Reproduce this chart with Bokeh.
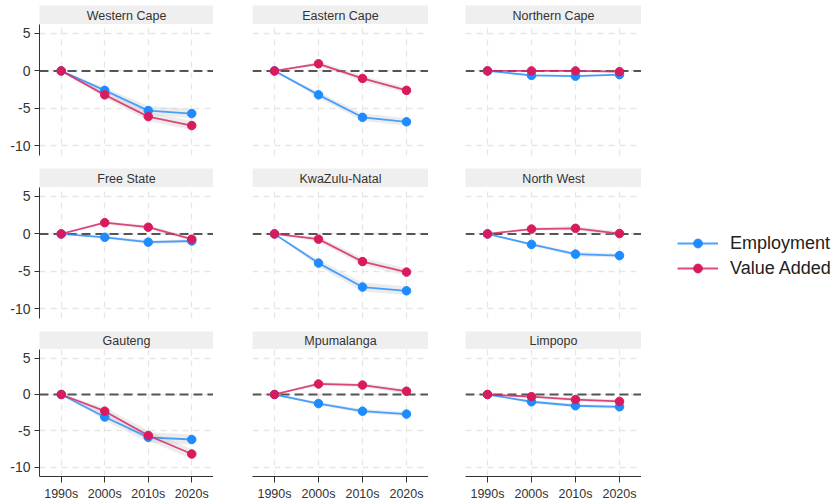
from bokeh.plotting import figure
from bokeh.layouts import row, column
from bokeh.models import (Range1d, LinearAxis, FixedTicker, Grid, Span, Label,
                          Legend, LegendItem)
from bokeh.embed import file_html
from bokeh.resources import INLINE

# ---------------- data ----------------
decades = ["1990s", "2000s", "2010s", "2020s"]
regions = ["Western Cape", "Eastern Cape", "Northern Cape",
           "Free State", "KwaZulu-Natal", "North West",
           "Gauteng", "Mpumalanga", "Limpopo"]

employment = [
    [0, -2.6, -5.3, -5.7],
    [0, -3.2, -6.2, -6.8],
    [0, -0.6, -0.7, -0.5],
    [0, -0.45, -1.1, -0.95],
    [0, -3.9, -7.1, -7.6],
    [0, -1.4, -2.7, -2.9],
    [0, -3.1, -5.9, -6.2],
    [0, -1.25, -2.3, -2.7],
    [0, -1.0, -1.55, -1.7],
]
value_added = [
    [0, -3.2, -6.1, -7.3],
    [0, 0.95, -1.0, -2.6],
    [0, 0.0, 0.0, -0.1],
    [0, 1.5, 0.9, -0.7],
    [0, -0.7, -3.7, -5.1],
    [0, 0.65, 0.75, 0.05],
    [0, -2.3, -5.65, -8.2],
    [0, 1.45, 1.3, 0.45],
    [0, -0.3, -0.7, -0.95],
]
# half-widths of the shaded confidence bands
employment_ci = [
    [0, 0.4, 0.6, 0.6],
    [0, 0.4, 0.5, 0.5],
    [0, 0.15, 0.15, 0.15],
    [0, 0.2, 0.25, 0.25],
    [0, 0.45, 0.6, 0.6],
    [0, 0.2, 0.3, 0.3],
    [0, 0.5, 0.7, 0.7],
    [0, 0.25, 0.3, 0.3],
    [0, 0.2, 0.25, 0.25],
]
value_added_ci = [
    [0, 0.4, 0.6, 0.6],
    [0, 0.3, 0.4, 0.4],
    [0, 0.15, 0.15, 0.15],
    [0, 0.2, 0.25, 0.25],
    [0, 0.35, 0.5, 0.5],
    [0, 0.2, 0.3, 0.3],
    [0, 0.5, 0.7, 0.7],
    [0, 0.25, 0.3, 0.3],
    [0, 0.2, 0.25, 0.25],
]
y_ticks = [-10, -5, 0, 5]
y_tick_labels = ["-10", "-5", "0", "5"]
series_names = ["Employment", "Value Added"]

# ---------------- style / layout ----------------
FONT = "Liberation Sans"
EMP_COLOR = "#1E8CFF"
VA_COLOR = "#D81B5E"
TEXT_COLOR = "#333333"

col_left = [39, 39, 37]
col_frame = [174, 176, 176]
row_top = [5, 0, 0]
row_strip = [19, 19, 18]
row_frame = [131, 131, 130]
row_bottom = [13, 13, 24]

x_idx = list(range(len(decades)))
nan = float("nan")


def make_strip(name, r, c):
    s = figure(width=col_left[c] + col_frame[c], height=row_top[r] + row_strip[r],
               x_range=Range1d(0, 1), y_range=Range1d(0, 1),
               x_axis_location=None, y_axis_location=None,
               toolbar_location=None, output_backend="svg",
               min_border=0, min_border_left=col_left[c], min_border_top=row_top[r],
               background_fill_color="#efefef", border_fill_color="white",
               outline_line_color=None)
    s.grid.visible = False
    s.add_layout(Label(x=0.5, y=0.45, text=name, text_align="center",
                       text_baseline="middle", text_font_size="12.5px",
                       text_color=TEXT_COLOR, text_font=FONT))
    return s


def make_panel(i):
    r, c = divmod(i, 3)
    p = figure(width=col_left[c] + col_frame[c], height=row_frame[r] + row_bottom[r],
               x_range=Range1d(-0.5, 3.5), y_range=Range1d(-11.3, 6.2),
               x_axis_location=None, y_axis_location=None,
               toolbar_location=None, output_backend="svg",
               min_border=0, min_border_left=col_left[c],
               min_border_bottom=row_bottom[r],
               outline_line_color=None, border_fill_color="white")
    p.grid.visible = False
    for dim, ticks in ((0, x_idx), (1, y_ticks)):
        p.add_layout(Grid(dimension=dim, ticker=FixedTicker(ticks=ticks),
                          grid_line_color="#e6e6e6", grid_line_width=1.3,
                          grid_line_dash="6 5"))
    p.add_layout(Span(location=0, dimension="width", line_color="#555555",
                      line_width=2, line_dash="9 5", level="underlay"))

    for vals, ci in ((employment[i], employment_ci[i]),
                     (value_added[i], value_added_ci[i])):
        lo = [v - h for v, h in zip(vals, ci)]
        hi = [v + h for v, h in zip(vals, ci)]
        p.varea(x=x_idx, y1=lo, y2=hi, fill_color="#c8c8c8", fill_alpha=0.35)
    for vals, color in ((employment[i], EMP_COLOR), (value_added[i], VA_COLOR)):
        p.line(x_idx, vals, line_color=color, line_width=1.8, line_alpha=0.8)
        p.scatter(x_idx, vals, size=8.5, fill_color=color, line_color=color)

    if c == 0:
        ax = LinearAxis(ticker=FixedTicker(ticks=y_ticks),
                        major_label_overrides=dict(zip(y_ticks, y_tick_labels)))
        ax.axis_line_color = TEXT_COLOR
        ax.major_tick_line_color = TEXT_COLOR
        ax.major_tick_out = 5
        ax.major_tick_in = 0
        ax.minor_tick_line_color = None
        ax.major_label_standoff = 4
        ax.major_label_text_font = FONT
        ax.major_label_text_font_size = "14px"
        ax.major_label_text_color = TEXT_COLOR
        p.add_layout(ax, "left")
    if r == 2:
        ax = LinearAxis(ticker=FixedTicker(ticks=x_idx),
                        major_label_overrides=dict(zip(x_idx, decades)))
        ax.axis_line_color = TEXT_COLOR
        ax.major_tick_line_color = TEXT_COLOR
        ax.major_tick_out = 6
        ax.major_tick_in = 0
        ax.minor_tick_line_color = None
        ax.major_label_standoff = 4
        ax.major_label_text_font = FONT
        ax.major_label_text_font_size = "12.5px"
        ax.major_label_text_color = TEXT_COLOR
        p.add_layout(ax, "below")
    return p


rows = []
for r in range(3):
    panels = []
    for c in range(3):
        i = r * 3 + c
        panels.append(column(make_strip(regions[i], r, c), make_panel(i)))
    rows.append(row(*panels))
grid_part = column(*rows)

total_h = sum(row_top) + sum(row_strip) + sum(row_frame) + sum(row_bottom)
leg = figure(width=199, height=total_h, x_range=Range1d(0, 1), y_range=Range1d(0, 1),
             x_axis_location=None, y_axis_location=None, toolbar_location=None,
             output_backend="svg", min_border=0, outline_line_color=None)
leg.grid.visible = False
items = []
for name, color in zip(series_names, (EMP_COLOR, VA_COLOR)):
    l = leg.line(x=[nan], y=[nan], line_color=color, line_width=1.8, line_alpha=0.8)
    s = leg.scatter(x=[nan], y=[nan], size=8.5, fill_color=color, line_color=color)
    items.append(LegendItem(label=name, renderers=[l, s]))
legend = Legend(items=items, location=(36, 224), padding=0, margin=0,
                border_line_color=None, background_fill_alpha=0,
                label_text_font=FONT, label_text_font_size="18px",
                label_text_color="#222222", glyph_width=41, glyph_height=22,
                label_height=22, spacing=3, label_standoff=12)
leg.add_layout(legend)

layout = row(grid_part, leg)
open("out.html", "w").write(file_html(layout, INLINE))
